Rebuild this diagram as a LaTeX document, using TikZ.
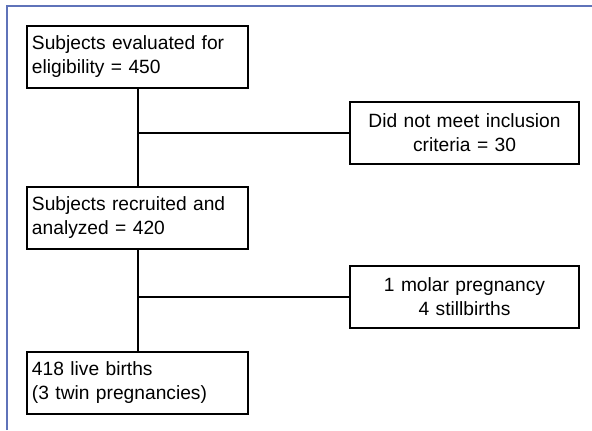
\documentclass[tikz,border=0pt]{standalone}
\usepackage{fontspec}
\setmainfont{Liberation Sans}
\usepackage{xcolor}
\usepackage{tikz}
\usetikzlibrary{positioning}
\definecolor{framecol}{RGB}{95,115,185}
\tikzstyle{stage} = [rectangle, minimum width=221bp, minimum height=62bp, text width=211bp, inner sep=5bp, align=left, draw=black, line width=2bp]
\tikzstyle{excluded} = [rectangle, minimum width=229bp, minimum height=62bp, text width=219bp, inner sep=5bp, align=center, draw=black, line width=2bp]
\tikzstyle{link} = [line width=2bp]

\begin{document}
\begin{tikzpicture}[x=1bp, y=-1bp, font=\fontsize{19.2bp}{24bp}\selectfont]
\useasboundingbox (0,0) rectangle (592,430);
\draw [framecol, line width=1.4bp] (7,430) -- (7,6) -- (592,6);
\node (eval) [stage] at (137.5,56.5) {Subjects evaluated for\\eligibility = 450};
\node (recr) [stage, below of=eval, node distance=161bp] {Subjects recruited and\\analyzed = 420};
\node (live) [stage, below of=recr, node distance=165bp] {418 live births\\(3 twin pregnancies)};
\node (crit) [excluded, right of=eval, xshift=327bp, node distance=0bp, yshift=-76bp] {Did not meet inclusion\\criteria = 30};
\node (loss) [excluded, right of=recr, xshift=327bp, node distance=0bp, yshift=-79bp] {1 molar pregnancy\\4 stillbirths};
\coordinate (b1) at (eval.south |- crit.west);
\coordinate (b2) at (recr.south |- loss.west);
\draw [link] (eval) -- (recr);
\draw [link] (recr) -- (live);
\draw [link] (b1) -- (crit.west);
\draw [link] (b2) -- (loss.west);
\end{tikzpicture}
\end{document}
